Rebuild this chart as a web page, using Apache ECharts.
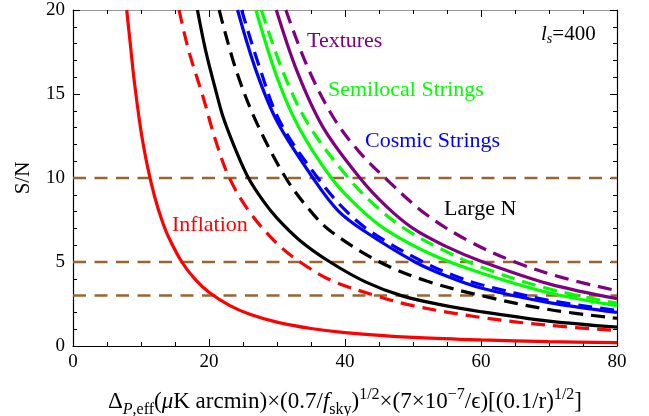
<!DOCTYPE html>
<html>
<head>
<meta charset="utf-8">
<script src="https://cdn.jsdelivr.net/npm/echarts@6/dist/echarts.min.js"></script>
<style>
html,body{margin:0;padding:0;background:#fff;}
#chart{width:649px;height:416px;}
</style>
</head>
<body>
<div id="chart"></div>
<script>
// ---- data ----
const xTicks = [0, 20, 40, 60, 80];
const yTicks = [0, 5, 10, 15, 20];
const thresholdLevels = [10, 5, 3];

const inflationX = [7.9, 8.5, 9, 10, 11, 12, 13, 14, 16, 18, 20, 23, 26, 30, 35, 40, 50, 60, 70, 80];
const inflationY = [20.0, 17.7, 15.8, 12.8, 10.6, 8.9, 7.57, 6.53, 5.0, 3.95, 3.2, 2.42, 1.89, 1.42, 1.04, 0.8, 0.51, 0.36, 0.26, 0.2];
const inflationDashX = [15.6, 17, 19, 21, 23, 26, 30, 33.4, 38, 44.5, 50, 60, 70, 80];
const inflationDashY = [20, 17.6, 15, 12.2, 10, 7.96, 6.1, 5, 3.9, 3.0, 2.4, 1.7, 1.23, 0.92];

const largeNX = [18.3, 19.5, 21, 22.1, 24, 25.8, 28, 30, 33.4, 37.8, 43, 48.3, 54, 60, 70, 80];
const largeNY = [20, 17.6, 15.2, 13.6, 11.6, 10, 8.62, 7.61, 6.27, 5, 3.82, 3.0, 2.46, 2.04, 1.48, 1.12];
const largeNDashX = [21.5, 24, 27, 31.3, 35, 38, 45.1, 52, 60, 70, 80];
const largeNDashY = [20, 16.4, 13.3, 10, 8.0, 6.8, 5, 3.87, 3.0, 2.17, 1.65];

const cosmicX = [24.2, 27, 30.1, 35.3, 39, 43, 50.3, 55, 60, 70, 80];
const cosmicY = [20, 16.3, 13.3, 10, 8.05, 6.8, 5, 4.15, 3.45, 2.58, 2.0];
const cosmicDashX = [24.8, 27.5, 30.5, 36, 40, 44, 51.5, 56, 60, 70, 80];
const cosmicDashY = [20, 16.5, 13.3, 10, 8.1, 6.75, 5, 4.2, 3.65, 2.72, 2.12];

const semilocalX = [26.9, 30, 33.1, 38, 42, 46.1, 53, 60, 70, 80];
const semilocalY = [20, 16.0, 13.1, 10, 8.25, 6.9, 5.4, 4.35, 3.17, 2.4];
const semilocalDashX = [27.7, 31, 34.6, 40.5, 45, 49.1, 54, 60, 70, 80];
const semilocalDashY = [20, 16.2, 13.2, 10, 8.16, 6.9, 5.8, 4.7, 3.4, 2.55];

const texturesX = [29.9, 33, 36.8, 42.2, 46, 50, 55, 60, 70, 80];
const texturesY = [20, 16.3, 13, 10, 8.34, 7.0, 5.9, 5.05, 3.7, 2.82];
const texturesDashX = [31.3, 34.5, 38.3, 42, 45.9, 52, 58.4, 65, 72, 80];
const texturesDashY = [20, 16.6, 13.6, 11.6, 10, 7.81, 6.21, 5.0, 4.07, 3.29];

const FONT = 'Liberation Serif';
const RED = '#ff0000', BLACK = '#000000', BLUE = '#0000ff', GREEN = '#00ff00', PURPLE = '#800080', BROWN = '#996633';

function pairs(xs, ys) { return xs.map((x, i) => [x, ys[i]]); }

function curve(xs, ys, color, dashed) {
  return {
    type: 'line', xAxisIndex: 0, yAxisIndex: 0,
    data: pairs(xs, ys), showSymbol: false, symbol: 'none',
    smooth: 0.35, clip: true, silent: true,
    lineStyle: { color: color, width: 3.2, type: dashed ? [14, 8] : 'solid', cap: 'butt' },
    z: 3
  };
}

const series = [];
thresholdLevels.forEach(v => {
  series.push({
    type: 'line', xAxisIndex: 0, yAxisIndex: 0,
    data: [[xTicks[0], v], [xTicks[xTicks.length - 1], v]],
    showSymbol: false, symbol: 'none', silent: true,
    lineStyle: { color: BROWN, width: 2.5, type: [13, 8.5] }, z: 2
  });
});
series.push(curve(inflationX, inflationY, RED, false));
series.push(curve(inflationDashX, inflationDashY, RED, true));
series.push(curve(largeNX, largeNY, BLACK, false));
series.push(curve(largeNDashX, largeNDashY, BLACK, true));
series.push(curve(cosmicX, cosmicY, BLUE, false));
series.push(curve(cosmicDashX, cosmicDashY, BLUE, true));
series.push(curve(semilocalX, semilocalY, GREEN, false));
series.push(curve(semilocalDashX, semilocalDashY, GREEN, true));
series.push(curve(texturesX, texturesY, PURPLE, false));
series.push(curve(texturesDashX, texturesDashY, PURPLE, true));

const tickCommon = {
  axisTick: { show: true, inside: true, length: 7, lineStyle: { color: '#000', width: 1 } },
  splitLine: { show: false }
};

const xMin = xTicks[0], xMax = xTicks[xTicks.length - 1];
const yMin = yTicks[0], yMax = yTicks[yTicks.length - 1];
const xStep = xTicks[1] - xTicks[0], yStep = yTicks[1] - yTicks[0];

const chart = echarts.init(document.getElementById('chart'), null, { renderer: 'canvas' });
chart.setOption({
  animation: false,
  backgroundColor: '#ffffff',
  grid: { left: 73, right: 32, top: 10, bottom: 70, containLabel: false },
  xAxis: [
    Object.assign({
      type: 'value', position: 'bottom', min: xMin, max: xMax, interval: xStep,
      axisLine: { show: true, onZero: false, lineStyle: { color: '#000', width: 1.2 } },
      axisLabel: { show: true, color: '#000', fontFamily: FONT, fontSize: 19, margin: 7 },
      minorTick: { show: true, splitNumber: 4, length: 4, lineStyle: { color: '#000', width: 1 } }
    }, tickCommon),
    Object.assign({
      type: 'value', position: 'top', min: xMin, max: xMax, interval: xStep,
      axisLine: { show: true, onZero: false, lineStyle: { color: '#999', width: 1.2 } },
      axisLabel: { show: false },
      minorTick: { show: true, splitNumber: 4, length: 4, lineStyle: { color: '#000', width: 1 } }
    }, tickCommon)
  ],
  yAxis: [
    Object.assign({
      type: 'value', position: 'left', min: yMin, max: yMax, interval: yStep,
      axisLine: { show: true, onZero: false, lineStyle: { color: '#000', width: 1.2 } },
      axisLabel: { show: true, color: '#000', fontFamily: FONT, fontSize: 19, margin: 8 },
      minorTick: { show: true, splitNumber: 5, length: 4, lineStyle: { color: '#000', width: 1 } }
    }, tickCommon),
    Object.assign({
      type: 'value', position: 'right', min: yMin, max: yMax, interval: yStep,
      axisLine: { show: true, onZero: false, lineStyle: { color: '#000', width: 1.2 } },
      axisLabel: { show: false },
      minorTick: { show: true, splitNumber: 5, length: 4, lineStyle: { color: '#000', width: 1 } }
    }, tickCommon)
  ],
  series: series,
  graphic: [
    { type: 'text', left: 307, top: 30, style: { text: 'Textures', fill: PURPLE, font: '22px "Liberation Serif"' } },
    { type: 'text', left: 328, top: 79, style: { text: 'Semilocal Strings', fill: GREEN, font: '22px "Liberation Serif"' } },
    { type: 'text', left: 365, top: 130, style: { text: 'Cosmic Strings', fill: BLUE, font: '22px "Liberation Serif"' } },
    { type: 'text', left: 444, top: 198, style: { text: 'Large N', fill: BLACK, font: '22px "Liberation Serif"' } },
    { type: 'text', left: 172, top: 214, style: { text: 'Inflation', fill: RED, font: '22px "Liberation Serif"' } },
    { type: 'text', x: 541, y: 34, style: {
        text: '{i|l}{s|s}{n|=400}', textVerticalAlign: 'middle', fill: '#000',
        rich: {
          i: { fontFamily: FONT, fontStyle: 'italic', fontSize: 21, lineHeight: 24, fill: '#000' },
          s: { fontFamily: FONT, fontStyle: 'italic', fontSize: 14, lineHeight: 13, verticalAlign: 'bottom', fill: '#000' },
          n: { fontFamily: FONT, fontSize: 21, lineHeight: 24, fill: '#000' }
        } } },
    { type: 'text', x: 23, y: 178, rotation: Math.PI / 2, style: {
        text: 'S/N', font: '21px "Liberation Serif"', fill: '#000', textAlign: 'center', textVerticalAlign: 'middle' } },
    { type: 'text', x: 345, y: 402, style: {
        text: '{m|Δ}{si|P}{sb|,eff}{m|(}{mi|μ}{m|K arcmin)×(0.7/}{mi|f}{sb|sky}{m|)}{sp|1/2}{m|×(7×10}{sp|−7}{m|/ϵ)[(0.1/r)}{sp|1/2}{m|]}',
        textAlign: 'center', textVerticalAlign: 'middle', fill: '#000',
        rich: {
          m: { fontFamily: FONT, fontSize: 23, lineHeight: 31, fill: '#000' },
          mi: { fontFamily: FONT, fontStyle: 'italic', fontSize: 23, lineHeight: 31, fill: '#000' },
          si: { fontFamily: FONT, fontStyle: 'italic', fontSize: 16, lineHeight: 18, verticalAlign: 'bottom', fill: '#000' },
          sb: { fontFamily: FONT, fontSize: 16, lineHeight: 18, verticalAlign: 'bottom', fill: '#000' },
          sp: { fontFamily: FONT, fontSize: 16, lineHeight: 18, verticalAlign: 'top', fill: '#000' }
        } } }
  ]
});
</script>
</body>
</html>
